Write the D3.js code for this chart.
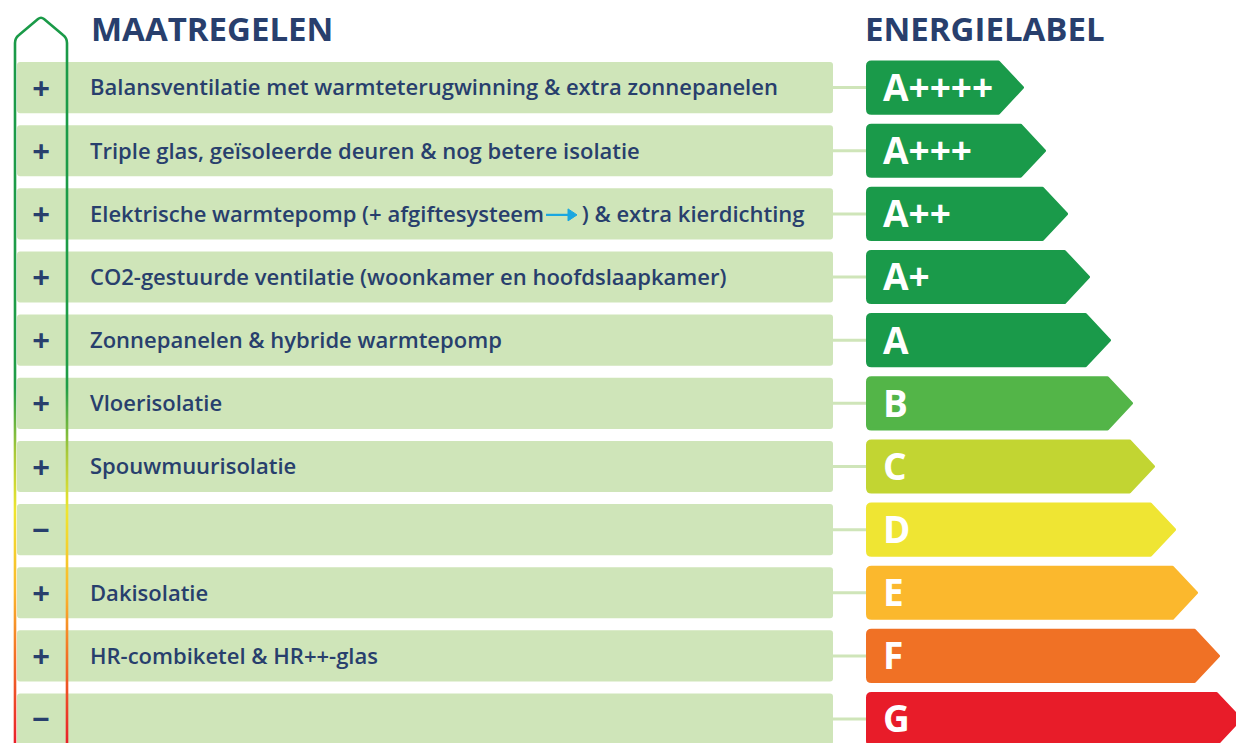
<!DOCTYPE html>
<html>
<head>
<meta charset="utf-8">
<script src="https://cdn.jsdelivr.net/npm/d3@7"></script>
<style>
  body { margin: 0; background: #fff; overflow: hidden; }
  svg { display: block; font-family: "Open Sans", sans-serif; }
</style>
</head>
<body>
<div id="chart"></div>
<script>
// Data
const measures = [
  "Balansventilatie met warmteterugwinning & extra zonnepanelen",
  "Triple glas, geïsoleerde deuren & nog betere isolatie",
  "Elektrische warmtepomp (+ afgiftesysteem ",
  "CO2-gestuurde ventilatie (woonkamer en hoofdslaapkamer)",
  "Zonnepanelen & hybride warmtepomp",
  "Vloerisolatie",
  "Spouwmuurisolatie",
  "",
  "Dakisolatie",
  "HR-combiketel & HR++-glas",
  ""
];
const measureTail = ["", "", ") & extra kierdichting", "", "", "", "", "", "", "", ""];
const signs = ["+", "+", "+", "+", "+", "+", "+", "−", "+", "+", "−"];
const labels = ["A++++", "A+++", "A++", "A+", "A", "B", "C", "D", "E", "F", "G"];
const labelColors = ["#1a9a4a", "#1a9a4a", "#1a9a4a", "#1a9a4a", "#1a9a4a",
  "#53b548", "#c2d532", "#efe533", "#fbb82d", "#f07125", "#e81c29"];
const labelLength = [158, 180, 202, 224, 245, 267, 289, 310, 332, 354, 376];

const W = 1236, H = 743;
const navy = "#283f6d";

const svg = d3.select("#chart").append("svg")
  .attr("width", W)
  .attr("height", H);

// Row scale
const step = 63.15;
const y = d3.scaleBand()
  .domain(d3.range(measures.length))
  .range([62, 62 + step * (measures.length - 0.19)])
  .paddingInner(0.19)
  .paddingOuter(0);

// Label length scale (pixels per unit)
const x = d3.scaleLinear().domain([0, 400]).range([864.5, 1264.5]);
const labelLeft = 867.5;

// Outline gradient
const defs = svg.append("defs");
const grad = defs.append("linearGradient")
  .attr("id", "scaleGrad")
  .attr("gradientUnits", "userSpaceOnUse")
  .attr("x1", 0).attr("x2", 0)
  .attr("y1", 17).attr("y2", 743);
[[0, "#1a9a48"], [0.51, "#1f9d48"], [0.6, "#a8c93a"], [0.68, "#eee52f"],
 [0.79, "#fbb72b"], [0.88, "#f27026"], [1, "#e8202a"]]
  .forEach(([o, c]) => grad.append("stop").attr("offset", o).attr("stop-color", c));

// Titles
svg.append("text")
  .attr("x", 91).attr("y", 41)
  .attr("fill", navy)
  .attr("font-size", 33)
  .attr("font-weight", 700)
  .text("MAATREGELEN");

svg.append("text")
  .attr("x", 865).attr("y", 41)
  .attr("fill", navy)
  .attr("font-size", 33)
  .attr("font-weight", 700)
  .text("ENERGIELABEL");

const rows = svg.append("g").selectAll("g")
  .data(measures)
  .join("g")
  .attr("transform", (d, i) => `translate(0,${y(i)})`);

const h = y.bandwidth();

// Connector lines
rows.append("line")
  .attr("x1", 830).attr("x2", 868)
  .attr("y1", h / 2).attr("y2", h / 2)
  .attr("stroke", "#cfe5b9")
  .attr("stroke-width", 3);

// Row backgrounds
rows.append("rect")
  .attr("x", 17).attr("width", 816)
  .attr("height", h)
  .attr("rx", 3)
  .attr("fill", "#cfe5b9");

// Signs
rows.append("text")
  .attr("x", 41).attr("y", h / 2)
  .attr("dy", "0.36em")
  .attr("text-anchor", "middle")
  .attr("fill", navy)
  .attr("font-size", 31)
  .attr("font-weight", 700)
  .text((d, i) => signs[i]);

// Measure text
rows.append("text")
  .attr("class", "measure")
  .attr("x", 90).attr("y", h / 2)
  .attr("dy", "0.36em")
  .attr("fill", navy)
  .attr("font-size", 22)
  .attr("font-weight", 600)
  .each(function (d, i) {
    const t = d3.select(this);
    const head = t.append("tspan").text(d);
    if (measureTail[i]) {
      const headLen = head.node().getComputedTextLength();
      t.append("tspan").attr("dx", 32).text(measureTail[i]);
      // blue arrow
      const g = d3.select(this.parentNode);
      const ax = 90 + headLen + 2;
      g.append("line")
        .attr("x1", ax).attr("x2", ax + 24)
        .attr("y1", h / 2 + 1).attr("y2", h / 2 + 1)
        .attr("stroke", "#1ba7e0").attr("stroke-width", 2.2);
      g.append("path")
        .attr("d", `M${ax + 22},${h / 2 - 5} L${ax + 31},${h / 2 + 1} L${ax + 22},${h / 2 + 7} Z`)
        .attr("fill", "#1ba7e0")
        .attr("stroke", "#1ba7e0")
        .attr("stroke-linejoin", "round");
    }
  });

// Energy labels
const r = 4, tip = 24;
rows.append("path")
  .attr("d", (d, i) => {
    const x0 = labelLeft, x1 = x(labelLength[i]);
    return `M${x0 + r},0 L${x1 - tip},0 L${x1},${h / 2} L${x1 - tip},${h} L${x0 + r},${h}` +
      ` Q${x0},${h} ${x0},${h - r} L${x0},${r} Q${x0},0 ${x0 + r},0 Z`;
  })
  .attr("fill", (d, i) => labelColors[i])
  .attr("stroke", (d, i) => labelColors[i])
  .attr("stroke-width", 3)
  .attr("stroke-linejoin", "round");

rows.append("text")
  .attr("x", 883).attr("y", h / 2)
  .attr("dy", "0.36em")
  .attr("fill", "#fff")
  .attr("font-size", 37)
  .attr("font-weight", 700)
  .text((d, i) => labels[i]);

// Outline arrow
svg.append("path")
  .attr("d", "M15,760 L15,43 Q15,38 19,35 L38,19 Q41,16.5 44,19 L63,35 Q67,38 67,43 L67,760")
  .attr("fill", "none")
  .attr("stroke", "url(#scaleGrad)")
  .attr("stroke-width", 2.6);
</script>
</body>
</html>
